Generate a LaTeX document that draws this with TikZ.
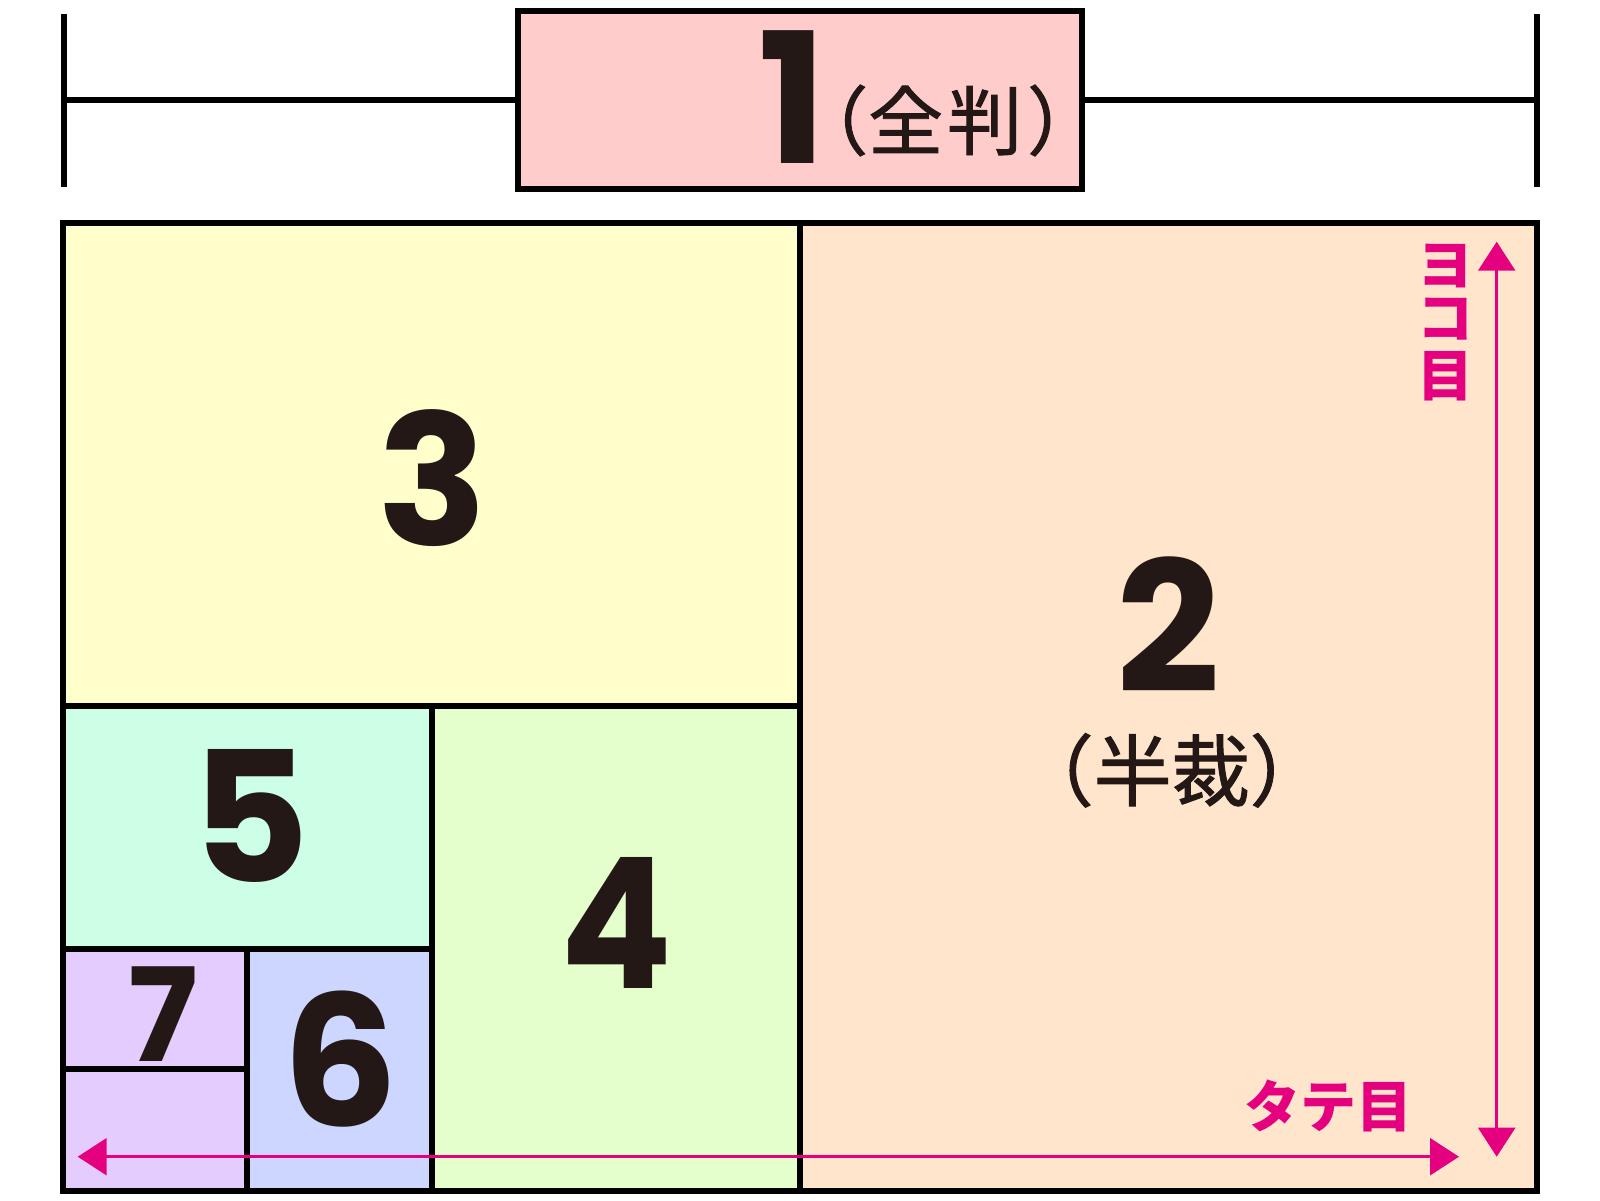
\documentclass[tikz,border=0pt]{standalone}
\usepackage{fontspec}
\usetikzlibrary{arrows.meta}
\newfontfamily\numfont{Poppins}
\newfontfamily\cjk{Noto Sans CJK JP}
\newfontfamily\cjkm{Noto Sans CJK JP}[FakeBold=1.2]
\newcommand\bignum{\numfont\bfseries\fontsize{182}{182}\selectfont}
\definecolor{ink}{HTML}{231815}
\definecolor{mag}{HTML}{E4007F}
\definecolor{cA}{HTML}{FFCCCC}
\definecolor{cB}{HTML}{FFE5CC}
\definecolor{cC}{HTML}{FFFFCC}
\definecolor{cD}{HTML}{E5FFCC}
\definecolor{cE}{HTML}{CCFFE5}
\definecolor{cF}{HTML}{CCD6FF}
\definecolor{cG}{HTML}{E5CCFF}
\tikzset{
  blk/.style={line width=6pt, draw=black},
  numlbl/.style={anchor=base, inner sep=0pt, text=ink, font=\bignum},
  smallnum/.style={numlbl, font=\numfont\bfseries\fontsize{130}{130}\selectfont},
  jplbl/.style={anchor=base west, inner sep=0pt, text=ink},
  maglbl/.style={anchor=base, inner sep=0pt, text=mag, font=\cjk\bfseries\fontsize{56}{56}\selectfont},
  magarrow/.style={draw=mag, line width=2.5pt, {Triangle[length=29pt,width=37pt]}-{Triangle[length=29pt,width=37pt]}}
}
\begin{document}
\begin{tikzpicture}[x=1pt, y=-1pt]
\useasboundingbox (0,0) rectangle (1600,1200);
\fill[white] (0,0) rectangle (1600,1200);
% coordinates
\coordinate (tlT) at (64,14);   \coordinate (tlB) at (64,187);
\coordinate (trT) at (1537,14); \coordinate (trB) at (1537,187);
\coordinate (lm) at (64,100);   \coordinate (rm) at (1537,100);
% fills
\fill[cC] (63,222.5) rectangle (800,706);
\fill[cB] (800,222.5) rectangle (1537,1191);
\fill[cE] (63,706) rectangle (431.6,949);
\fill[cD] (431.6,706) rectangle (800,1191);
\fill[cG] (63,949) rectangle (247,1191);
\fill[cF] (247,949) rectangle (431.6,1191);
% top scale
\draw[blk] (tlT) -- (tlB);
\draw[blk] (trT) -- (trB);
\node[blk, fill=cA, rectangle, inner sep=0pt, minimum width=564pt, minimum height=178pt] (one) at (800,100) {};
\draw[blk] (lm) -- (one.west);
\draw[blk] (one.east) -- (rm);
% main frame and divisions
\draw[blk] (63,222.5) rectangle (1537,1191);
\draw[blk] (800,222.5) -- (800,1191);
\draw[blk] (63,706) -- (800,706);
\draw[blk] (431.6,706) -- (431.6,1191);
\draw[blk] (63,949) -- (431.6,949);
\draw[blk] (247,949) -- (247,1191);
\draw[blk] (63,1069) -- (247,1069);
% labels
\node[jplbl] (z1) at (793,163)
  {\makebox[0pt][c]{\bignum 1}\raisebox{14pt}{\cjkm\fontsize{75}{75}\selectfont （全\kern4pt 判\kern5pt ）}};
\node[numlbl] (n3) at (433,545) {3};
\node[jplbl] (z2) at (1168,692)
  {\makebox[0pt][c]{\bignum 2}\makebox[0pt][c]{\raisebox{-108pt}[0pt][0pt]{\hspace{6pt}\cjkm\fontsize{78}{78}\selectfont （半裁）}}};
\node[numlbl] (n5) at (251,882) {5};
\node[numlbl] (n4) at (617,988) {\scalebox{0.91}[1]{4}};
\node[smallnum] (n7) at (163,1061) {7};
\node[numlbl] (n6) at (340,1126) {6};
% arrows
\coordinate (hl) at (77.7,1156.7);
\coordinate (hr) at (1459,1156.7);
\coordinate (vt) at (1496.7,241.7);
\coordinate (vb) at (1496.7,1156.7);
\draw[magarrow] (hl) -- (hr);
\draw[magarrow] (vt) -- (vb);
\node[maglbl] (tate) at (1328,1127) {タテ目};
\node[maglbl] (yo) at (1445,285) {ヨ};
\node[maglbl] (ko) at (1445,338) {コ};
\node[maglbl] (me) at (1445,396) {目};
\end{tikzpicture}
\end{document}
